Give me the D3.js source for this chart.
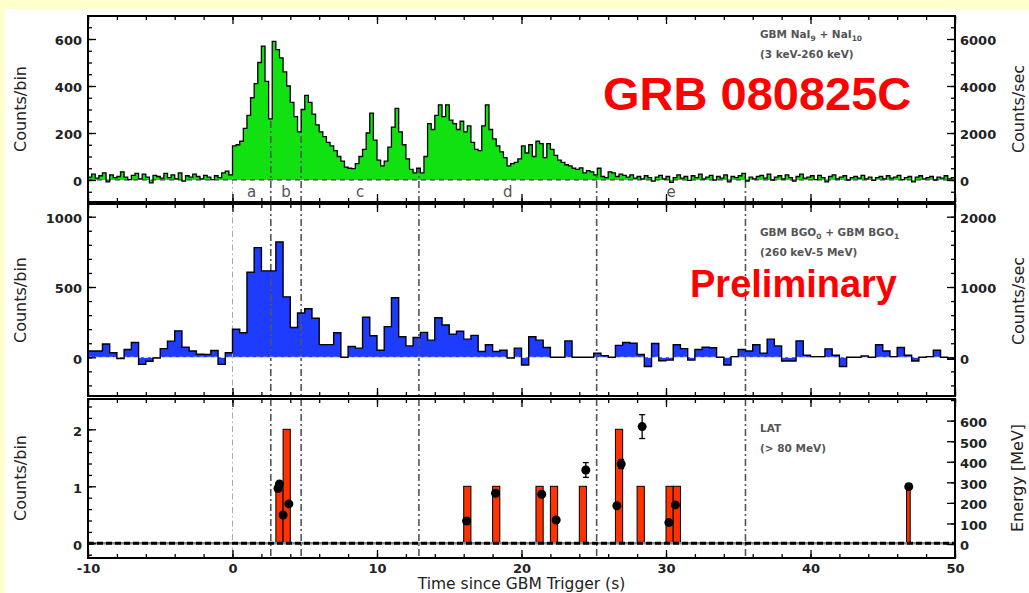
<!DOCTYPE html>
<html>
<head>
<meta charset="utf-8">
<script src="https://cdn.jsdelivr.net/npm/d3@7"></script>
<style>
  body { margin: 0; background: #ffffcc; }
  svg { display: block; }
</style>
</head>
<body>
<div id="chart"></div>
<script>
// GBM NaI light curve: counts per 0.25 s bin, first bin starts at -10 s
const naiStart = -10, naiBin = 0.25;
const naiCounts = [
  12, 25, 8, 18, 30, -8, 22, 10, 15, 35,
  12, 2, 20, 28, 5, 25, 12, -12, 20, 15,
  8, 28, 10, 22, 5, 30, -5, 18, 12, 25,
  15, 5, 20, 12, 2, 18, 10, 30, 38, 22,
  145, 150, 165, 220, 275, 350, 410, 500,
  570, 420, 260, 590, 555, 520, 460, 400,
  330, 270, 205, 300, 360, 330, 280, 235,
  205, 185, 160, 145, 125, 100, 80, 55,
  50, 48, 70, 100, 130, 200, 285, 170, 85, 60,
  80, 140, 225, 305, 205, 150, 90, 45, 30, 50,
  30, 100, 240, 215, 275, 320, 270, 320,
  255, 240, 215, 250, 205, 230, 160, 130,
  125, 230, 320, 215, 175, 145, 120, 95,
  60, 70, 75, 90, 145, 115, 150, 100,
  165, 155, 95, 155, 130, 105, 85, 75,
  65, 60, 50, 45, 52, 30, 40, 35,
  22, 50, 15, 10, 35, 30, 15, 25, 20, 12,
  22, 8, 15, 5, 18, 10, -5, 12, 20, 5,
  15, -10, 10, 22, 8, 15, -2, 18, 10, 25,
  5, 12, 20, 0, 15, 8, 22, -8, 15, 10,
  18, 28, -5, 12, 5, 15, 20, 8, 25, 0,
  12, 18, 5, 22, 10, -5, 15, 25, 8, 12,
  18, 2, 20, 10, -8, 15, 22, 5, 12, 18,
  0, 10, 15, 8, 20, 5, 12, -2, 10, 15,
  5, 18, 8, 12, 20, 2, 10, 15, -8, 12,
  18, 5, 10, 15, 0, 12, 8, 18, 5, 10
];

// GBM BGO light curve: counts per 0.5 s bin, first bin starts at -10 s
const bgoStart = -10, bgoBin = 0.5;
const bgoCounts = [
  45, 45, 95, 32, -8, 55, 105, -50, -28, -5,
  62, 115, 188, 72, 45, 22, 20, 48, -50, 32,
  200, 175, 605, 780, 615, 615, 820, 430,
  212, 315, 345, 278, 90, 90, 175, 0,
  77, 65, 285, 153, 50, 218, 424, 146, 81, 141,
  177, 122, 281, 230, 165, 185, 129, 156, 41, 89,
  41, 50, -5, 65, -55, 146, 122, 70, 0, 0,
  117, 0, 0, 0, 30, 12, 0, 85, 105, 100,
  20, -65, 98, -25, -20, 89, 62, -20,
  55, 72, 68, 0, -55, 5, 55, 45, 89, 30,
  129, 81, -26, -26, 117, 15, 5, 5, 60, 15,
  -65, 0, 0, 10, 0, 89, 45, 5, 70, 15,
  -26, 0, 5, 50, 0, -15
];

// LAT counts histogram (>80 MeV)
const latBinStart = [3.0, 3.5, 16.0, 18.0, 21.0, 22.0, 24.0, 26.5, 28.0, 30.0, 30.5, 46.65];
const latBinEnd   = [3.5, 4.0, 16.5, 18.5, 21.5, 22.5, 24.5, 27.0, 28.5, 30.5, 31.0, 46.9];
const latBinCount = [1, 2, 1, 1, 1, 1, 1, 2, 1, 1, 1, 1];

// LAT photon energies (MeV) with error
const photonTime   = [3.15, 3.25, 3.5, 3.9, 16.2, 18.2, 21.4, 22.4, 24.45, 26.6, 26.9, 28.35, 30.2, 30.65, 46.8];
const photonEnergy = [270, 292, 141, 195, 112, 247, 242, 117, 360, 186, 389, 571, 104, 190, 279];
const photonErr    = [0, 0, 0, 0, 0, 0, 0, 0, 36, 0, 22, 58, 0, 0, 14];

// time intervals a-e
const intervalTimes = [0, 2.65, 4.75, 12.9, 25.2, 35.5];
const intervalLabels = ["a", "b", "c", "d", "e"];

const xTickLabels = [-10, 0, 10, 20, 30, 40, 50];
const naiTicks = [0, 200, 400, 600];
const naiRateTicks = [0, 2000, 4000, 6000];
const bgoTicks = [0, 500, 1000];
const bgoRateTicks = [0, 1000, 2000];
const latTicks = [0, 1, 2];
const energyTicks = [0, 100, 200, 300, 400, 500, 600];

const W = 1029, H = 593;
const left = 88, right = 955;
const P = [
  { top: 16, bottom: 202 },
  { top: 204, bottom: 396 },
  { top: 399, bottom: 558 }
];

const x = d3.scaleLinear().domain([-10, 50]).range([left, right]);

// y scales: zero level and pixels per unit
function yScale(p, zero, perUnit) {
  return d3.scaleLinear()
    .domain([(zero - p.bottom) / perUnit, (zero - p.top) / perUnit])
    .range([p.bottom, p.top]);
}
const yNai = yScale(P[0], 180, 0.235);
const yNaiRate = yScale(P[0], 180, 0.0235);
const yBgo = yScale(P[1], 357.3, 0.1406);
const yBgoRate = yScale(P[1], 357.3, 0.0703);
const yLat = yScale(P[2], 543.3, 57);
const yEnergy = yScale(P[2], 544, 0.2056);

const svg = d3.select("#chart").append("svg")
  .attr("width", W)
  .attr("height", H);

svg.append("rect").attr("width", W).attr("height", H).attr("fill", "#ffffcc");
svg.append("rect").attr("x", 5).attr("y", 9).attr("width", W - 5).attr("height", H - 9).attr("fill", "#fff");

const defs = svg.append("defs");
P.forEach((p, i) => {
  defs.append("clipPath").attr("id", "clip" + i)
    .append("rect")
    .attr("x", left).attr("y", p.top)
    .attr("width", right - left).attr("height", p.bottom - p.top);
});

function stepPoints(start, bin, counts) {
  const pts = counts.map((c, i) => [start + i * bin, c]);
  pts.push([start + counts.length * bin, counts[counts.length - 1]]);
  return pts;
}

function drawIntervals(g, top, bottom) {
  intervalTimes.forEach((t, i) => {
    g.append("line")
      .attr("x1", x(t)).attr("x2", x(t))
      .attr("y1", top).attr("y2", bottom)
      .attr("stroke", i === 0 ? "#aaa" : "#555")
      .attr("stroke-width", i === 0 ? 1 : 1.6)
      .attr("stroke-dasharray", i === 0 ? "6,3,1.5,3" : "7,3,2,3");
  });
}

// ---------- top panel: NaI ----------
const naiPts = stepPoints(naiStart, naiBin, naiCounts);
const g0 = svg.append("g").attr("clip-path", "url(#clip0)");

g0.append("path")
  .attr("d", d3.area().curve(d3.curveStepAfter)
    .x(d => x(d[0])).y0(yNai(0)).y1(d => yNai(d[1]))(naiPts))
  .attr("fill", "#11e011");

// interval lines only show under the curve
defs.append("clipPath").attr("id", "underCurve")
  .append("path")
  .attr("d", d3.area().curve(d3.curveStepAfter)
    .x(d => x(d[0])).y0(P[0].bottom).y1(d => yNai(Math.max(d[1], 0)))(naiPts));
drawIntervals(g0.append("g").attr("clip-path", "url(#underCurve)"), P[0].top, P[0].bottom);

g0.append("line")
  .attr("x1", left).attr("x2", right)
  .attr("y1", yNai(0)).attr("y2", yNai(0))
  .attr("stroke", "#333").attr("stroke-width", 1.2)
  .attr("stroke-dasharray", "5,4");

g0.append("path")
  .attr("d", d3.line().curve(d3.curveStepAfter)
    .x(d => x(d[0])).y(d => yNai(d[1]))(naiPts))
  .attr("fill", "none")
  .attr("stroke", "#000")
  .attr("stroke-width", 1.3);

g0.selectAll("text.interval")
  .data(intervalLabels)
  .join("text")
  .attr("class", "interval")
  .attr("x", (d, i) => x((intervalTimes[i] + intervalTimes[i + 1]) / 2))
  .attr("y", 197)
  .attr("text-anchor", "middle")
  .attr("font-family", "DejaVu Sans")
  .attr("font-size", 15)
  .attr("fill", "#555")
  .text(d => d);

// ---------- middle panel: BGO ----------
const bgoPts = stepPoints(bgoStart, bgoBin, bgoCounts);
const g1 = svg.append("g").attr("clip-path", "url(#clip1)");

g1.append("path")
  .attr("d", d3.area().curve(d3.curveStepAfter)
    .x(d => x(d[0])).y0(yBgo(0)).y1(d => yBgo(d[1]))(bgoPts))
  .attr("fill", "#1e3cff");

drawIntervals(g1, P[1].top, P[1].bottom);

g1.append("line")
  .attr("x1", left).attr("x2", right)
  .attr("y1", yBgo(0)).attr("y2", yBgo(0))
  .attr("stroke", "#dde").attr("stroke-width", 1.3)
  .attr("stroke-dasharray", "4,3");

g1.append("path")
  .attr("d", d3.line().curve(d3.curveStepAfter)
    .x(d => x(d[0])).y(d => yBgo(d[1]))(bgoPts))
  .attr("fill", "none")
  .attr("stroke", "#000")
  .attr("stroke-width", 1.4);

// ---------- bottom panel: LAT ----------
const g2 = svg.append("g").attr("clip-path", "url(#clip2)");
drawIntervals(g2, P[2].top, P[2].bottom);

g2.selectAll("rect.lat")
  .data(latBinCount)
  .join("rect")
  .attr("class", "lat")
  .attr("x", (d, i) => x(latBinStart[i]))
  .attr("width", (d, i) => x(latBinEnd[i]) - x(latBinStart[i]))
  .attr("y", d => yLat(d))
  .attr("height", d => yLat(0) - yLat(d))
  .attr("fill", "#ff3300")
  .attr("stroke", "#000")
  .attr("stroke-width", 1);

g2.append("line")
  .attr("x1", left).attr("x2", right)
  .attr("y1", yLat(0)).attr("y2", yLat(0))
  .attr("stroke", "#888").attr("stroke-width", 2.5);
g2.append("line")
  .attr("x1", left).attr("x2", right)
  .attr("y1", yLat(0)).attr("y2", yLat(0))
  .attr("stroke", "#000").attr("stroke-width", 3)
  .attr("stroke-dasharray", "6,3");

photonTime.forEach((t, i) => {
  if (photonErr[i] > 0) {
    const e0 = yEnergy(photonEnergy[i] - photonErr[i]);
    const e1 = yEnergy(photonEnergy[i] + photonErr[i]);
    g2.append("line").attr("x1", x(t)).attr("x2", x(t)).attr("y1", e0).attr("y2", e1)
      .attr("stroke", "#000").attr("stroke-width", 1.3);
    [e0, e1].forEach(yy => g2.append("line")
      .attr("x1", x(t) - 3).attr("x2", x(t) + 3).attr("y1", yy).attr("y2", yy)
      .attr("stroke", "#000").attr("stroke-width", 1.3));
  }
});
g2.selectAll("circle")
  .data(photonEnergy)
  .join("circle")
  .attr("cx", (d, i) => x(photonTime[i]))
  .attr("cy", d => yEnergy(d))
  .attr("r", 4.5)
  .attr("fill", "#000");

// ---------- axes ----------
function styleAxis(g) {
  g.select(".domain").remove();
  g.selectAll("line").attr("stroke", "#000").attr("stroke-width", 1.3);
  g.selectAll("text")
    .attr("font-family", "DejaVu Sans")
    .attr("font-weight", "bold")
    .attr("font-size", 13)
    .attr("fill", "#222");
  return g;
}

function yAxis(scale, side, major, minorStep) {
  const [d0, d1] = scale.domain();
  const minor = d3.range(Math.ceil(d0 / minorStep) * minorStep, d1, minorStep);
  const make = side === "left" ? d3.axisLeft : d3.axisRight;
  const xPos = side === "left" ? left : right;
  styleAxis(svg.append("g").attr("transform", `translate(${xPos},0)`)
    .call(make(scale).tickValues(minor).tickSize(-4).tickFormat("")));
  styleAxis(svg.append("g").attr("transform", `translate(${xPos},0)`)
    .call(make(scale).tickValues(major).tickSize(-8).tickPadding(side === "left" ? 6 : 5)
      .tickFormat(d => String(d))))
    .selectAll("text").attr("dy", "0.45em");
}

yAxis(yNai, "left", naiTicks, 50);
yAxis(yNaiRate, "right", naiRateTicks, 500);
yAxis(yBgo, "left", bgoTicks, 100);
yAxis(yBgoRate, "right", bgoRateTicks, 200);
yAxis(yLat, "left", latTicks, 0.2);
yAxis(yEnergy, "right", energyTicks, 100);

const xMinor = d3.range(-10, 51, 2);
P.forEach((p, i) => {
  [["top", p.top, d3.axisTop], ["bottom", p.bottom, d3.axisBottom]].forEach(([side, yy, make]) => {
    styleAxis(svg.append("g").attr("transform", `translate(0,${yy})`)
      .call(make(x).tickValues(xMinor).tickSize(-4).tickFormat("")));
    const labelled = i === 2 && side === "bottom";
    styleAxis(svg.append("g").attr("transform", `translate(0,${yy})`)
      .call(make(x).tickValues(xTickLabels).tickSize(-8).tickPadding(6)
        .tickFormat(labelled ? (d => String(d)) : "")));
  });
});

// frames
P.forEach(p => {
  svg.append("rect")
    .attr("x", left).attr("y", p.top)
    .attr("width", right - left).attr("height", p.bottom - p.top)
    .attr("fill", "none")
    .attr("stroke", "#000")
    .attr("stroke-width", 2);
});

// axis titles
function vLabel(xx, yy, txt) {
  svg.append("text")
    .attr("transform", `translate(${xx},${yy}) rotate(-90)`)
    .attr("text-anchor", "middle")
    .attr("font-family", "DejaVu Sans")
    .attr("font-size", 16)
    .attr("fill", "#222")
    .text(txt);
}
vLabel(26, 109, "Counts/bin");
vLabel(26, 300, "Counts/bin");
vLabel(26, 478, "Counts/bin");
vLabel(1024, 109, "Counts/sec");
vLabel(1024, 301, "Counts/sec");
vLabel(1023, 478, "Energy [MeV]");

svg.append("text")
  .attr("x", (left + right) / 2)
  .attr("y", 589)
  .attr("text-anchor", "middle")
  .attr("font-family", "DejaVu Sans")
  .attr("font-size", 15.5)
  .attr("fill", "#222")
  .text("Time since GBM Trigger (s)");

// detector notes
function note(yy, parts) {
  const t = svg.append("text")
    .attr("x", 760).attr("y", yy)
    .attr("font-family", "DejaVu Sans")
    .attr("font-weight", "bold")
    .attr("font-size", 10.5)
    .attr("fill", "#555");
  parts.forEach(([s, sub]) => {
    t.append("tspan")
      .attr("dy", sub === 1 ? 3 : sub === -1 ? -3 : 0)
      .attr("font-size", sub === 1 ? 7.5 : 10.5)
      .text(s);
  });
}
note(38, [["GBM NaI", 0], ["9", 1], [" + NaI", -1], ["10", 1]]);
note(58, [["(3 keV-260 keV)", 0]]);
note(236, [["GBM BGO", 0], ["0", 1], [" + GBM BGO", -1], ["1", 1]]);
note(256, [["(260 keV-5 MeV)", 0]]);
note(432, [["LAT", 0]]);
note(452, [["(> 80 MeV)", 0]]);

// red overlays
svg.append("text")
  .attr("x", 603).attr("y", 110)
  .attr("font-family", "Liberation Sans, Arial, sans-serif")
  .attr("font-weight", "bold")
  .attr("font-size", 47)
  .attr("fill", "#ff0000")
  .text("GRB 080825C");

svg.append("text")
  .attr("x", 690).attr("y", 297)
  .attr("font-family", "Liberation Sans, Arial, sans-serif")
  .attr("font-weight", "bold")
  .attr("font-size", 38)
  .attr("fill", "#ff0000")
  .text("Preliminary");
</script>
</body>
</html>
